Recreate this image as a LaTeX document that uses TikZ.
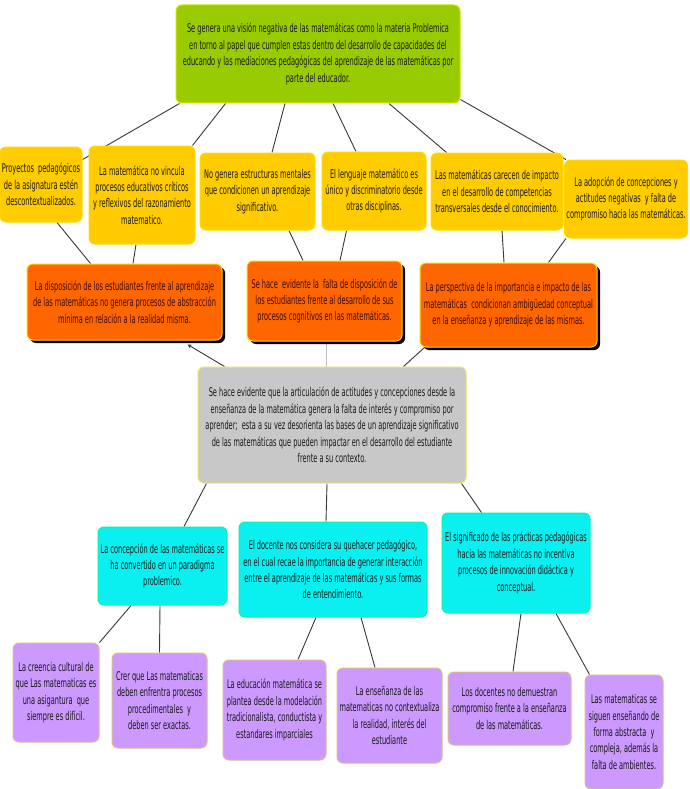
\documentclass[tikz,border=0pt]{standalone}
\usepackage{fontspec}
\setmainfont[FakeStretch=0.55]{DejaVu Sans}
\usetikzlibrary{arrows,calc,backgrounds,shadows}
\definecolor{TopClr}{RGB}{153,204,0}
\definecolor{CauseClr}{RGB}{255,204,0}
\definecolor{EffectClr}{RGB}{255,102,0}
\definecolor{CoreClr}{RGB}{200,200,200}
\definecolor{RootClr}{RGB}{10,240,240}
\definecolor{LeafClr}{RGB}{204,153,255}
\definecolor{LinkClr}{RGB}{55,55,55}
\tikzset{
  box/.style={rounded corners=6pt,align=center,inner sep=2pt,line width=1pt,
    text=black!90,font=\fontsize{12}{16.4}\selectfont},
  topbox/.style={box,fill=TopClr,draw=TopClr!50!yellow},
  causebox/.style={box,fill=CauseClr,draw=CauseClr!70!yellow},
  effectbox/.style={box,fill=EffectClr,draw=yellow!80!EffectClr,text={rgb,255:red,60;green,10;blue,0},
    drop shadow={shadow xshift=3pt,shadow yshift=-3pt,opacity=1,fill=black}},
  corebox/.style={box,fill=CoreClr,draw=yellow!60!CoreClr},
  rootbox/.style={box,fill=RootClr,draw=green!30!RootClr},
  leafbox/.style={box,fill=LeafClr,draw=yellow!40!LeafClr},
  link/.style={draw=LinkClr,line width=0.9pt}
}
\begin{document}
\begin{tikzpicture}[x=1pt,y=-1pt,>=stealth]
\useasboundingbox (0,0) rectangle (690,789);

\node[topbox,minimum width=284pt,minimum height=98pt] (top) at (318,54)
  {Se genera una visión negativa de las matemáticas como la materia Problemica\\
   en torno al papel que cumplen estas dentro del desarrollo de capacidades del\\
   educando y las mediaciones pedagógicas del aprendizaje de las matemáticas por\\
   parte del educador.};

\node[causebox,minimum width=82pt,minimum height=75pt] (y1) at (41,184.5)
  {Proyectos\ \ pedagógicos\\ de la asignatura estén\\ descontextualizados.};
\node[causebox,minimum width=106pt,minimum height=98pt] (y2) at (142,195)
  {La matemática no vincula\\ procesos educativos críticos\\ y reflexivos del razonamiento\\ matematico.};
\node[causebox,minimum width=115pt,minimum height=77pt] (y3) at (257.5,191.5)
  {No genera estructuras mentales\\ que condicionen un aprendizaje\\ significativo.};
\node[causebox,minimum width=104pt,minimum height=78pt] (y4) at (374,191)
  {El lenguaje matemático es\\ único y discriminatorio desde\\ otras disciplinas.};
\node[causebox,minimum width=132pt,minimum height=77pt] (y5) at (497,191.5)
  {Las matemáticas carecen de impacto\\ en el desarrollo de competencias\\ transversales desde el conocimiento.};
\node[causebox,minimum width=122pt,minimum height=78pt] (y6) at (626,199)
  {La adopción de concepciones y\\ actitudes negativas\ \ y falta de\\ compromiso hacia las matemáticas.};

\node[effectbox,minimum width=195pt,minimum height=76pt] (o1) at (124.5,302)
  {La disposición de los estudiantes frente al aprendizaje\\ de las matemáticas no genera procesos de abstracción\\ mínima en relación a la realidad misma.};
\node[effectbox,minimum width=155pt,minimum height=80pt] (o2) at (324.5,301)
  {Se hace\ \ evidente la\ \ falta de disposición de\\ los estudiantes frente al desarrollo de sus\\ procesos cognitivos en las matemáticas.};
\node[effectbox,minimum width=177pt,minimum height=84pt] (o3) at (508.5,305)
  {La perspectiva de la importancia e impacto de las\\ matemáticas\ \ condicionan ambigüedad conceptual\\ en la enseñanza y aprendizaje de las mismas.};

\node[corebox,minimum width=268pt,minimum height=116pt] (core) at (332,425)
  {Se hace evidente que la articulación de actitudes y concepciones desde la\\
   enseñanza de la matemática genera la falta de interés y compromiso por\\
   aprender;\ \ esta a su vez desorienta las bases de un aprendizaje significativo\\
   de las matemáticas que pueden impactar en el desarrollo del estudiante\\
   frente a su contexto.};

\node[rootbox,minimum width=129pt,minimum height=78pt] (c1) at (162.5,566)
  {La concepción de las matemáticas se\\ ha convertido en un paradigma\\ problemico.};
\node[rootbox,minimum width=188pt,minimum height=95pt] (c2) at (333,569.5)
  {El docente nos considera su quehacer pedagógico,\\ en el cual recae la importancia de generar interacción\\ entre el aprendizaje de las matemáticas y sus formas\\ de entendimiento.};
\node[rootbox,minimum width=148pt,minimum height=100pt] (c3) at (516,563)
  {El significado de las prácticas pedagógicas\\ hacia las matemáticas no incentiva\\ procesos de innovación didáctica y\\ conceptual.};

\node[leafbox,minimum width=86pt,minimum height=99pt] (p1) at (56,692.5)
  {La creencia cultural de\\ que Las matematicas es\\ una asigantura\ \ que\\ siempre es difícil.};
\node[leafbox,minimum width=95pt,minimum height=95pt] (p2) at (159.5,700.5)
  {Crer que Las matematicas\\ deben enfrentra procesos\\ procedimentales\ \ y\\ deben ser exactas.};
\node[leafbox,minimum width=103pt,minimum height=100pt] (p3) at (274.5,710)
  {La educación matemática se\\ plantea desde la modelación\\ tradicionalista, conductista y\\ estandares imparciales};
\node[leafbox,minimum width=105pt,minimum height=95pt] (p4) at (389.5,715.5)
  {La enseñanza de las\\ matematicas no contextualiza\\ la realidad, interés del\\ estudiante};
\node[leafbox,minimum width=123pt,minimum height=73pt] (p5) at (509.5,708.5)
  {Los docentes no demuestran\\ compromiso frente a la enseñanza\\ de las matemáticas.};
\node[leafbox,minimum width=78pt,minimum height=114pt] (p6) at (624,732)
  {Las matematicas se\\ siguen enseñando de\\ forma abstracta\ \ y\\ compleja, además la\\ falta de ambientes.};

\begin{pgfonlayer}{background}
\draw[link] ([xshift=4pt]top.south west) -- ([yshift=-13pt]y1.north east);
\draw[link] ([xshift=50pt]top.south west) -- ([xshift=-3pt]y2.north east);
\draw[link] ([xshift=-33pt]top.south) -- ([xshift=14.5pt]y3.north);
\draw[link] ([xshift=15pt]top.south) -- ([xshift=-18pt]y4.north);
\draw[link] ([xshift=71pt]top.south) -- ([xshift=16pt]y5.north west);
\draw[link] ([yshift=4pt]top.south east) -- ([xshift=2pt]y6.north west);

\draw[link] ([xshift=16pt]y1.south) -- ([xshift=64pt]o1.north west);
\draw[link] ([xshift=-6pt]y2.south) -- ([xshift=8.5pt]o1.north);
\draw[link] ([xshift=31.5pt]y3.south) -- ([xshift=-21.5pt]o2.north);
\draw[link] ([xshift=-27.5pt]y4.south) -- ([xshift=15.5pt]o2.north);
\draw[link] ([xshift=5pt]y5.south) -- ([xshift=-4.5pt]o3.north);
\draw[link] ([xshift=2pt]y6.south west) -- ([xshift=-49pt]o3.north east);

\draw[link,->] ([xshift=27pt]core.north west) -- ([xshift=-35pt,yshift=-4pt]o1.south east);
\draw[link,draw=black!25,line width=0.5pt] ([xshift=1.5pt]o2.south) -- ([xshift=-6pt]core.north);
\draw[link] ([xshift=5pt]o3.south west) -- ([xshift=-63pt]core.north east);

\draw[link] ([xshift=9pt]core.south west) -- ([xshift=21.5pt]c1.north);
\draw[link] ([xshift=-5pt]core.south) -- ([xshift=-7pt]c2.north);
\draw[link] ([xshift=-5pt]core.south east) -- ([xshift=40pt]c3.north west);

\draw[link] ([xshift=-31.5pt]c1.south) -- (p1.north east);
\draw[link] ([xshift=-2.5pt]c1.south) -- (p2.north);
\draw[link] ([xshift=-17pt]c2.south) -- ([xshift=23.5pt]p3.north);
\draw[link] ([xshift=28pt]c2.south) -- ([xshift=-14.5pt]p4.north);
\draw[link] ([xshift=5pt]c3.south) -- ([xshift=3.5pt]p5.north);
\draw[link] ([xshift=40pt]c3.south) -- ([xshift=5pt]p6.north west);
\end{pgfonlayer}
\end{tikzpicture}
\end{document}
